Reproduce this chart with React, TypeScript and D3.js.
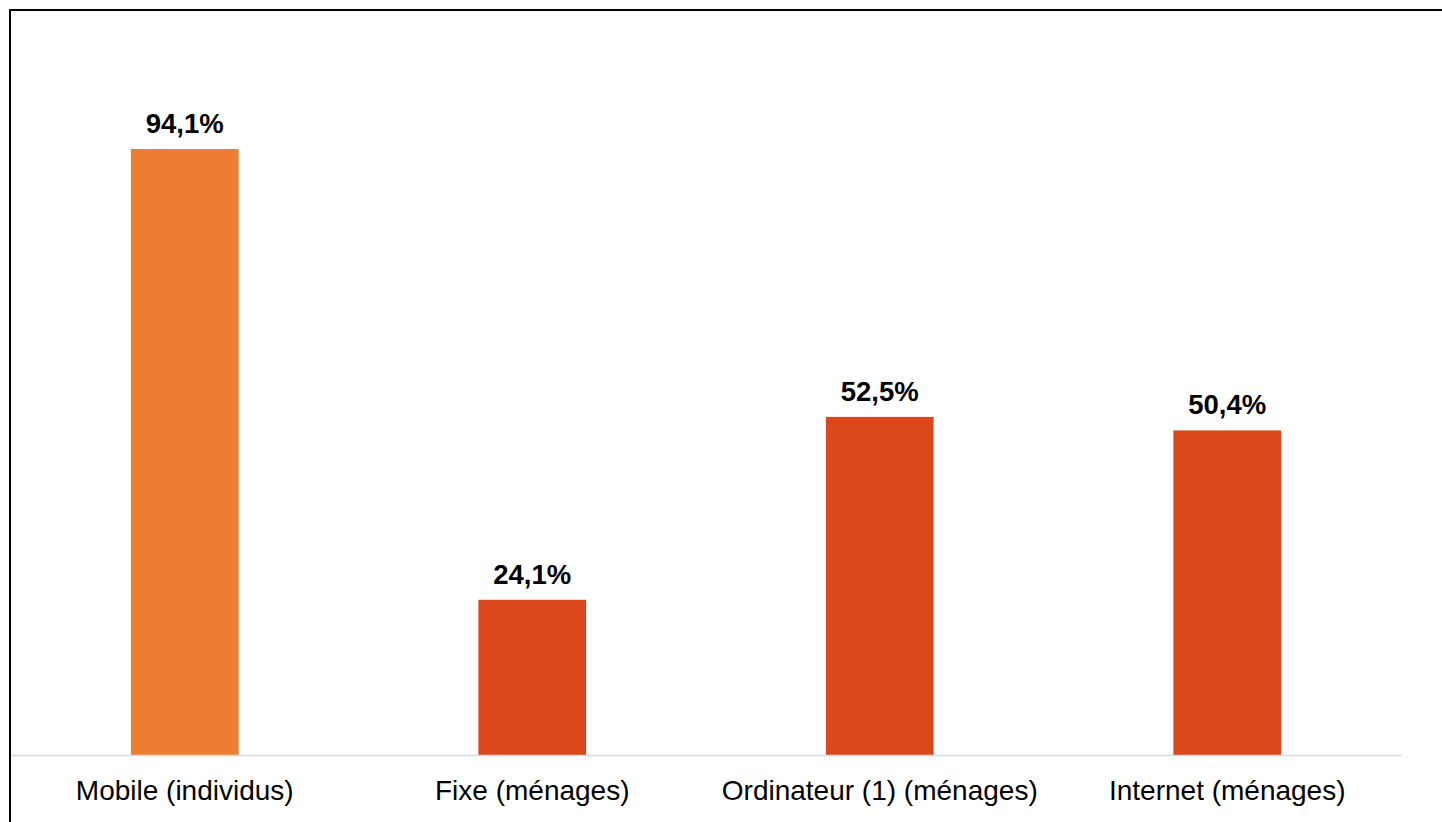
import React from "react";
import * as d3 from "d3";

const categories = ["Mobile (individus)", "Fixe (ménages)", "Ordinateur (1) (ménages)", "Internet (ménages)"];
const values = [94.1, 24.1, 52.5, 50.4];
const valueLabels = ["94,1%", "24,1%", "52,5%", "50,4%"];
const barColors = ["#ED7D31", "#D9471A", "#D9471A", "#D9471A"];

export default function App() {
  const W = 1442;
  const H = 822;
  const x = d3.scaleBand<string>().domain(categories).range([11, 1401]).paddingInner(0.69).paddingOuter(0.345);
  const y = d3.scaleLinear().domain([0, 100]).range([755, 111]);
  const font = "'Liberation Sans', Arial, Helvetica, sans-serif";
  return (
    <svg width={W} height={H} style={{ position: "absolute", left: 0, top: 0, display: "block", background: "#fff" }}>
      <rect x={10} y={10} width={1440} height={820} fill="#fff" stroke="#000" strokeWidth={2} />
      {categories.map((c, i) => (
        <g key={c}>
          <rect x={x(c)!} y={y(values[i])} width={x.bandwidth()} height={y(0) - y(values[i])} fill={barColors[i]} />
          <text x={x(c)! + x.bandwidth() / 2} y={y(values[i]) - 16} textAnchor="middle" fontFamily={font} fontWeight="bold" fontSize={27.5} fill="#000">
            {valueLabels[i]}
          </text>
          <text x={x(c)! + x.bandwidth() / 2} y={800} textAnchor="middle" fontFamily={font} fontSize={28} fill="#000">
            {c}
          </text>
        </g>
      ))}
      <line x1={11} x2={1402} y1={y(0) + 0.5} y2={y(0) + 0.5} stroke="#D9D9D9" strokeWidth={1.5} />
    </svg>
  );
}
